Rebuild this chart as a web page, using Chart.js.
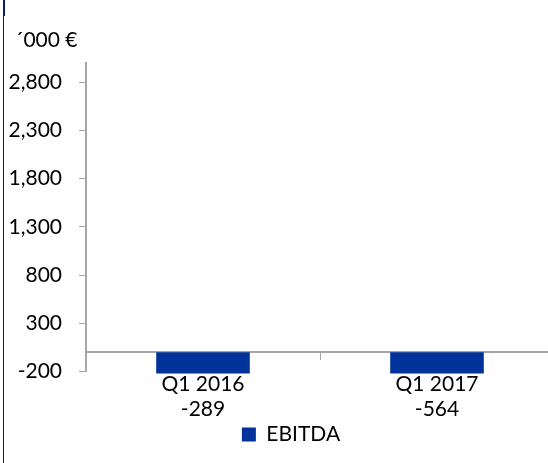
<!DOCTYPE html>
<html>
<head>
<meta charset="utf-8">
<script src="https://cdn.jsdelivr.net/npm/chart.js@4"></script>
<style>
    html, body { margin: 0; padding: 0; background: #ffffff; overflow: hidden; }
    .frame { position: relative; width: 548px; height: 463px; overflow: hidden; }
    .edge { position: absolute; left: 3px; top: 0; width: 1px; height: 463px; background: #0b1f5e; }
    .edge-top { position: absolute; left: 3px; top: 0; width: 2px; height: 16px; background: #0b1f5e; }
    canvas { position: absolute; left: 0; top: 0; }
</style>
</head>
<body>
<div class="frame">
    <canvas id="ebitdaChart" width="582" height="463"></canvas>
    <div class="edge"></div>
    <div class="edge-top"></div>
</div>
<script>
// Chart data
const CATEGORIES = ['Q1 2016', 'Q1 2017'];
const EBITDA = [-289, -564];
const Y_TICKS = [-200, 300, 800, 1300, 1800, 2300, 2800];
const UNIT_LABEL = '\u00B4000 \u20AC';

const FONT = { family: 'Lato, "Open Sans", sans-serif', size: 21 };
const AXIS_GREY = '#a6a6a6';
const TEXT = '#000000';

// Category label + value on a second line, as in the source slide
const xLabels = CATEGORIES.map((c, i) => [c, String(EBITDA[i])]);

// Unit caption above the value axis
const unitCaption = {
    id: 'unitCaption',
    afterDraw(chart) {
        const { ctx, chartArea } = chart;
        ctx.save();
        ctx.font = `${FONT.size}px ${FONT.family}`;
        ctx.fillStyle = TEXT;
        ctx.textAlign = 'left';
        ctx.textBaseline = 'middle';
        ctx.fillText(UNIT_LABEL, 15, chartArea.top - 23);
        ctx.restore();
    }
};

new Chart(document.getElementById('ebitdaChart'), {
    type: 'bar',
    data: {
        labels: xLabels,
        datasets: [{
            label: 'EBITDA',
            data: EBITDA,
            backgroundColor: '#003399',
            borderWidth: 0,
            categoryPercentage: 1,
            barPercentage: 0.4,
            clip: { left: 0, top: 0, right: 0, bottom: 2 },
            xAxisID: 'x',
            yAxisID: 'y'
        }]
    },
    options: {
        responsive: false,
        animation: false,
        layout: { padding: { top: 63, left: 0, right: 0, bottom: 8 } },
        plugins: {
            legend: {
                position: 'bottom',
                labels: {
                    color: TEXT,
                    font: FONT,
                    boxWidth: 14,
                    boxHeight: 14,
                    padding: 2
                }
            },
            tooltip: { enabled: false }
        },
        scales: {
            x: {
                type: 'category',
                position: { y: 0 },
                offset: true,
                grid: {
                    offset: true,
                    drawOnChartArea: false,
                    drawTicks: true,
                    tickLength: 7,
                    color: AXIS_GREY
                },
                border: { display: true, color: AXIS_GREY, width: 2 },
                ticks: { display: false }
            },
            x2: {
                type: 'category',
                position: 'bottom',
                offset: true,
                grid: { display: false, drawTicks: false },
                border: { display: false },
                ticks: { color: TEXT, font: FONT, padding: 0, maxRotation: 0 }
            },
            y: {
                min: -200,
                max: 3000,
                afterBuildTicks: (scale) => {
                    scale.ticks = Y_TICKS.map(v => ({ value: v }));
                },
                afterFit: (scale) => {
                    scale.width = 86;
                },
                grid: {
                    drawOnChartArea: false,
                    tickLength: 7,
                    color: AXIS_GREY
                },
                border: { display: true, color: AXIS_GREY, width: 2 },
                ticks: {
                    color: TEXT,
                    font: FONT,
                    padding: 17,
                    callback: (v) => Number(v).toLocaleString('en-US')
                }
            },
            // empty spacer on the right so the legend sits where the slide had it
            spacer: {
                type: 'linear',
                position: 'right',
                grid: { display: false, drawTicks: false },
                border: { display: false },
                ticks: { display: false },
                afterFit: (scale) => {
                    scale.width = 28;
                }
            }
        }
    },
    plugins: [unitCaption]
});
</script>
</body>
</html>
